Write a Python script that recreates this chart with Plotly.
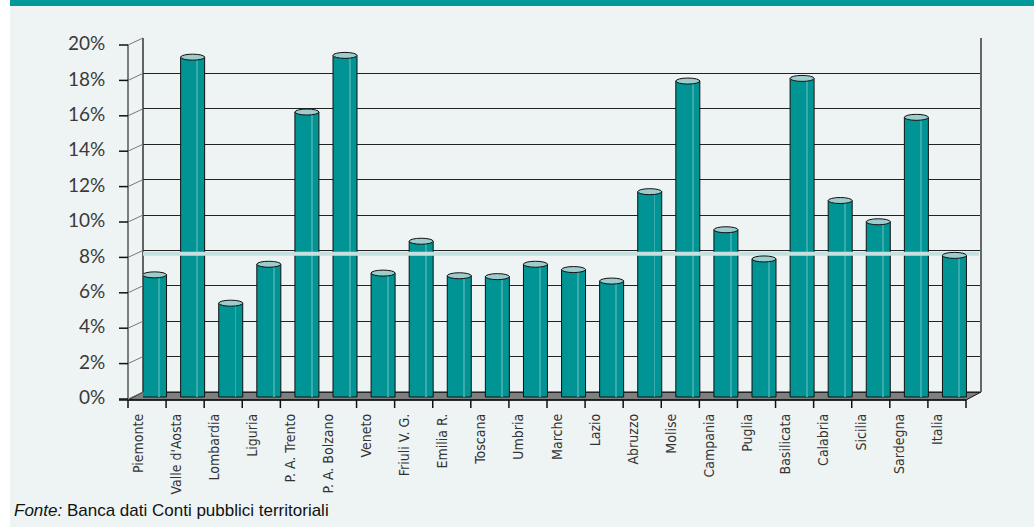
import plotly.graph_objects as go

# Dati: quota percentuale per regione
regioni = ['Piemonte', "Valle d'Aosta", 'Lombardia', 'Liguria', 'P. A. Trento',
           'P. A. Bolzano', 'Veneto', 'Friuli V. G.', 'Emilia R.', 'Toscana',
           'Umbria', 'Marche', 'Lazio', 'Abruzzo', 'Molise', 'Campania',
           'Puglia', 'Basilicata', 'Calabria', 'Sicilia', 'Sardegna', 'Italia']
valori = [6.9, 19.2, 5.3, 7.5, 16.1, 19.3, 7.0, 8.8, 6.85, 6.8,
          7.5, 7.2, 6.55, 11.6, 17.85, 9.45, 7.8, 18.0, 11.1, 9.9, 15.8, 8.0]
media_italia = 8.1
tick_y = [0, 2, 4, 6, 8, 10, 12, 14, 16, 18, 20]
tick_y_text = ['0%', '2%', '4%', '6%', '8%', '10%', '12%', '14%', '16%', '18%', '20%']

TEAL = '#009494'
BG = '#eef4f4'

# geometria in pixel della pseudo-prospettiva
FIG_W, FIG_H = 1034, 527
L, R, T, B = 143, 981, 38, 400
W, H = R - L, B - T
BACK0 = 392            # zero sulla parete di fondo
SCALE = (BACK0 - T) / 20.0
DX, DY = -15, 7        # profondita'


def px_x(p):
    return (p - L) / W


def px_y(p):
    return (B - p) / H


def val_px(v):
    return BACK0 - SCALE * v


def y_range(off):
    # asse i cui valori cadono 'off' pixel sotto la parete di fondo
    return [(BACK0 + off - B) / SCALE, (BACK0 + off - T) / SCALE]


x = list(range(len(regioni)))
cat_w = W / len(regioni)
shift = (DX / 2) / cat_w   # barre a meta' profondita'
bar_w = 0.63

fig = go.Figure()

# traccia invisibile sulla parete di fondo (griglia)
fig.add_trace(go.Scatter(
    x=[x[0]], y=[tick_y[0]], yaxis='y', mode='markers',
    marker=dict(opacity=0), hoverinfo='skip', showlegend=False
))
fig.add_trace(go.Bar(
    x=x, y=valori, yaxis='y2',
    width=bar_w, offset=-bar_w / 2 + shift,
    marker=dict(color=TEAL, line=dict(color='#111111', width=1)),
    hoverinfo='skip', showlegend=False
))
# riflesso del cilindro
fig.add_trace(go.Bar(
    x=x, y=valori, yaxis='y2',
    width=0.025, offset=-bar_w / 2 + shift + bar_w * 0.68,
    marker=dict(color='#3aaaaa', line=dict(width=0)),
    hoverinfo='skip', showlegend=False
))
# traccia invisibile per le etichette dell'asse frontale
fig.add_trace(go.Scatter(
    x=[x[0]], y=[tick_y[0]], yaxis='y3', mode='markers',
    marker=dict(opacity=0), hoverinfo='skip', showlegend=False
))

shapes = []
# sfondo e banda superiore
shapes.append(dict(type='rect', xref='paper', yref='paper', layer='below',
                   x0=px_x(10), x1=px_x(FIG_W), y0=px_y(FIG_H), y1=px_y(0),
                   fillcolor=BG, line=dict(width=0)))
shapes.append(dict(type='rect', xref='paper', yref='paper', layer='below',
                   x0=px_x(10), x1=px_x(FIG_W), y0=px_y(6), y1=px_y(0),
                   fillcolor='#009999', line=dict(width=0)))
# pavimento
shapes.append(dict(type='path', xref='paper', yref='paper', layer='below',
                   path='M {} {} L {} {} L {} {} L {} {} Z'.format(
                       px_x(L), px_y(BACK0), px_x(R), px_y(BACK0),
                       px_x(R + DX), px_y(BACK0 + DY + 1), px_x(L + DX), px_y(BACK0 + DY + 1)),
                   fillcolor='#7f7f7f', line=dict(color='#111111', width=1)))
# linea frontale asse x e tacche
shapes.append(dict(type='line', xref='paper', yref='paper',
                   x0=px_x(119), x1=px_x(R + DX), y0=px_y(400), y1=px_y(400),
                   line=dict(color='#111111', width=1.5)))
for k in range(len(regioni) + 1):
    xp = L + DX + k * cat_w
    shapes.append(dict(type='line', xref='paper', yref='paper',
                       x0=px_x(xp), x1=px_x(xp), y0=px_y(400), y1=px_y(408),
                       line=dict(color='#111111', width=1.5)))
# parete sinistra: asse frontale, diagonali e tacche
shapes.append(dict(type='line', xref='paper', yref='paper',
                   x0=px_x(L + DX), x1=px_x(L + DX),
                   y0=px_y(val_px(20) + DY), y1=px_y(400),
                   line=dict(color='#555555', width=1.5)))
shapes.append(dict(type='line', xref='paper', yref='paper',
                   x0=px_x(L), x1=px_x(L), y0=px_y(T), y1=px_y(BACK0),
                   line=dict(color='#333333', width=1.5)))
shapes.append(dict(type='line', xref='paper', yref='paper',
                   x0=px_x(R), x1=px_x(R), y0=px_y(T), y1=px_y(BACK0),
                   line=dict(color='#666666', width=2)))
for v in tick_y:
    yb = val_px(v)
    shapes.append(dict(type='line', xref='paper', yref='paper',
                       x0=px_x(L), x1=px_x(L + DX), y0=px_y(yb), y1=px_y(yb + DY),
                       line=dict(color='#777777', width=1)))
    shapes.append(dict(type='line', xref='paper', yref='paper',
                       x0=px_x(L + DX), x1=px_x(L + DX - 9), y0=px_y(yb + DY), y1=px_y(yb + DY),
                       line=dict(color='#111111', width=1.5)))
# linea media Italia
shapes.append(dict(type='line', xref='x', yref='y2', layer='above',
                   x0=-0.5 - 5 / cat_w, x1=len(regioni) - 0.5 - 2 / cat_w,
                   y0=media_italia, y1=media_italia,
                   line=dict(color='#c6e0e0', width=4)))
# coperchi dei cilindri
for i, v in enumerate(valori):
    shapes.append(dict(type='circle', xref='x', yref='y2',
                       xsizemode='pixel', ysizemode='pixel',
                       xanchor=i + shift, yanchor=v,
                       x0=-12, x1=12, y0=-3, y1=3,
                       fillcolor='#9ccccc', line=dict(color='#111111', width=1)))

fig.update_layout(
    width=FIG_W, height=FIG_H,
    margin=dict(l=L, r=FIG_W - R, t=T, b=FIG_H - B),
    paper_bgcolor='white',
    plot_bgcolor='rgba(0,0,0,0)',
    barmode='overlay',
    showlegend=False,
    shapes=shapes,
    xaxis=dict(
        range=[-0.5, len(regioni) - 0.5],
        tickvals=x, ticktext=regioni,
        tickangle=-90, showgrid=False, zeroline=False, showline=False,
        ticks='', ticklabelstandoff=10, ticklabelshift=-24,
        tickfont=dict(family='DejaVu Sans Condensed, Liberation Sans Narrow', size=14, color='#333333'),
    ),
    yaxis=dict(
        range=y_range(0),
        tickvals=tick_y, showticklabels=False,
        showgrid=True, gridcolor='#222222', gridwidth=1,
        zeroline=False, showline=False, ticks='',
    ),
    yaxis2=dict(
        overlaying='y',
        range=y_range(5),
        visible=False,
    ),
    yaxis3=dict(
        overlaying='y',
        range=y_range(5.5),
        tickvals=tick_y, ticktext=tick_y_text,
        showgrid=False, zeroline=False, showline=False,
        ticks='outside', ticklen=33, tickcolor='rgba(0,0,0,0)',
        tickfont=dict(family='Lato, Open Sans', size=19, color='#3a3a3a'),
    ),
    annotations=[dict(
        xref='paper', yref='paper', x=px_x(12), y=px_y(510),
        xanchor='left', yanchor='middle', showarrow=False,
        text='<i>Fonte:</i> Banca dati Conti pubblici territoriali',
        font=dict(family='Liberation Sans, Arial', size=17, color='#111111'),
    )],
)

fig.write_html('out.html', config={'displayModeBar': False},
               post_script="document.body.style.margin='0';")
